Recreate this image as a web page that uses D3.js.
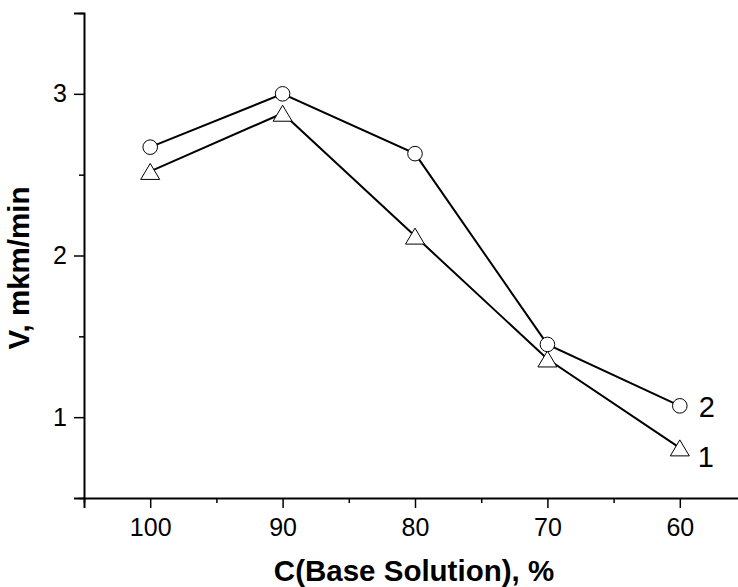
<!DOCTYPE html>
<html>
<head>
<meta charset="utf-8">
<script src="https://cdn.jsdelivr.net/npm/d3@7"></script>
<style>
  body { margin: 0; background: #fff; }
  svg { display: block; font-family: "Liberation Sans", Arial, sans-serif; }
</style>
</head>
<body>
<svg id="chart"></svg>
<script>
// concentration of base solution, %
const concentration = [100, 90, 80, 70, 60];
// curve 1 (triangles) and curve 2 (circles), mkm/min
const speed1 = [2.52, 2.88, 2.12, 1.36, 0.81];
const speed2 = [2.67, 3.00, 2.63, 1.45, 1.07];
const xTicks = [100, 90, 80, 70, 60];
const xMinor = [105, 95, 85, 75, 65, 55];
const yTicks = [1, 2, 3];
const yMinor = [0.5, 1.5, 2.5, 3.5];

const width = 738, height = 587;
const margin = { top: 13, left: 84, bottom: 89 };

const svg = d3.select("#chart")
    .attr("width", width)
    .attr("height", height);

// scales
const x = d3.scaleLinear()
    .domain([105, 55])
    .range([margin.left, 746]);
const y = d3.scaleLinear()
    .domain([0.5, 3.5])
    .range([height - margin.bottom, margin.top]);

// x axis
const xAxisG = svg.append("g")
    .attr("transform", "translate(0," + y(0.5) + ")");
xAxisG.call(d3.axisBottom(x).tickValues(xTicks).tickSize(10).tickPadding(10).tickFormat(d3.format("d")));
xAxisG.append("g")
    .call(d3.axisBottom(x).tickValues(xMinor).tickSize(5).tickFormat(""))
    .select(".domain").remove();

// y axis
const yAxisG = svg.append("g")
    .attr("transform", "translate(" + margin.left + ",0)");
yAxisG.call(d3.axisLeft(y).tickValues(yTicks).tickSize(10).tickPadding(7).tickFormat(d3.format("d")));
yAxisG.append("g")
    .call(d3.axisLeft(y).tickValues(yMinor).tickSize(5).tickFormat(""))
    .select(".domain").remove();

// flat axis lines, no end caps
svg.selectAll(".domain").attr("stroke-width", 2).attr("d", function () {
    return d3.select(this).attr("d").replace(/V6|V-6|H-6|H6/g, m => m[0] + "0");
});
svg.selectAll(".tick line").attr("stroke-width", 1.5);
svg.selectAll(".tick text")
    .attr("fill", "#000")
    .style("font-size", "25px")
    .style("font-family", "\"Liberation Sans\", Arial, sans-serif");

// axis titles
svg.append("text")
    .attr("x", (x(100) + x(60)) / 2 - 1)
    .attr("y", 581)
    .attr("text-anchor", "middle")
    .style("font-size", "29.5px")
    .style("font-weight", "bold")
    .text("C(Base Solution), %");

svg.append("text")
    .attr("transform", "translate(29,268) rotate(-90)")
    .attr("text-anchor", "middle")
    .style("font-size", "29.5px")
    .style("font-weight", "bold")
    .text("V, mkm/min");

// lines
const line = d3.line()
    .x((d, i) => x(concentration[i]))
    .y(d => y(d));

[speed1, speed2].forEach(series => {
    svg.append("path")
        .datum(series)
        .attr("fill", "none")
        .attr("stroke", "#000")
        .attr("stroke-width", 2)
        .attr("d", line);
});

// markers
svg.selectAll(".tri")
    .data(speed1)
    .enter().append("path")
    .attr("class", "tri")
    .attr("transform", (d, i) => "translate(" + x(concentration[i]) + "," + y(d) + ")")
    .attr("d", "M0,-8L9.5,8L-9.5,8Z")
    .attr("fill", "#fff")
    .attr("stroke", "#000")
    .attr("stroke-width", 1);

svg.selectAll(".circ")
    .data(speed2)
    .enter().append("circle")
    .attr("class", "circ")
    .attr("cx", (d, i) => x(concentration[i]))
    .attr("cy", d => y(d))
    .attr("r", 7.3)
    .attr("fill", "#fff")
    .attr("stroke", "#000")
    .attr("stroke-width", 1);

// curve labels
svg.append("text")
    .attr("x", x(60) + 19)
    .attr("y", y(speed2[4]) + 11)
    .style("font-size", "29px")
    .text("2");
svg.append("text")
    .attr("x", x(60) + 18)
    .attr("y", y(speed1[4]) + 19)
    .style("font-size", "29px")
    .text("1");
</script>
</body>
</html>
